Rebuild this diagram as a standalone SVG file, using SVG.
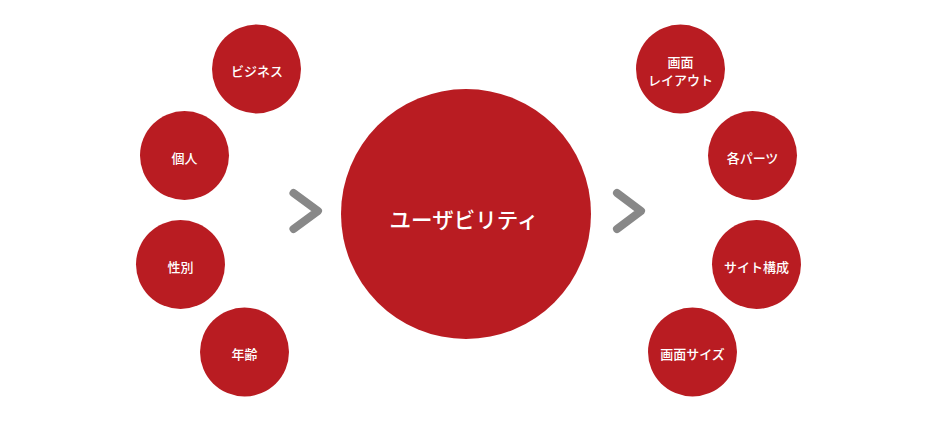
<svg xmlns="http://www.w3.org/2000/svg" width="940" height="430" viewBox="0 0 940 430">
<style>
.c{fill:#b91c22}
.t{fill:#ffffff;font-family:"Noto Sans CJK JP","Noto Sans",sans-serif;font-size:13px;font-weight:500;text-anchor:middle;dominant-baseline:central}
.big{font-size:21.5px}
.arr{fill:none;stroke:#888888;stroke-width:8;stroke-linecap:round;stroke-linejoin:round}
</style>
<rect width="940" height="430" fill="#ffffff"/>
<g id="connectors">
<polyline class="arr" points="293.5,193 318,211 293.5,229"/>
<polyline class="arr" points="617,193 641,211 617,229"/>
</g>
<g id="business"><circle class="c" cx="256.5" cy="69" r="44.5"/><text class="t" x="257" y="70.5">ビジネス</text></g>
<g id="kojin"><circle class="c" cx="184.5" cy="155.5" r="44.5"/><text class="t" x="184.5" y="157">個人</text></g>
<g id="seibetsu"><circle class="c" cx="180.5" cy="264.5" r="44.5"/><text class="t" x="180.5" y="266">性別</text></g>
<g id="nenrei"><circle class="c" cx="244.5" cy="352" r="44.5"/><text class="t" x="244.5" y="353.5">年齢</text></g>
<g id="usability"><circle class="c" cx="466" cy="214" r="125"/><text class="t big" x="464" y="218">ユーザビリティ</text></g>
<g id="layout"><circle class="c" cx="680.5" cy="69" r="44.5"/><text class="t" x="680.5" y="61.5">画面</text><text class="t" x="680.5" y="79">レイアウト</text></g>
<g id="parts"><circle class="c" cx="752.5" cy="155.5" r="44.5"/><text class="t" x="752.5" y="157">各パーツ</text></g>
<g id="site"><circle class="c" cx="756.5" cy="264.5" r="44.5"/><text class="t" x="756.5" y="266">サイト構成</text></g>
<g id="size"><circle class="c" cx="692.5" cy="352" r="44.5"/><text class="t" x="692.5" y="353.5">画面サイズ</text></g>
</svg>
